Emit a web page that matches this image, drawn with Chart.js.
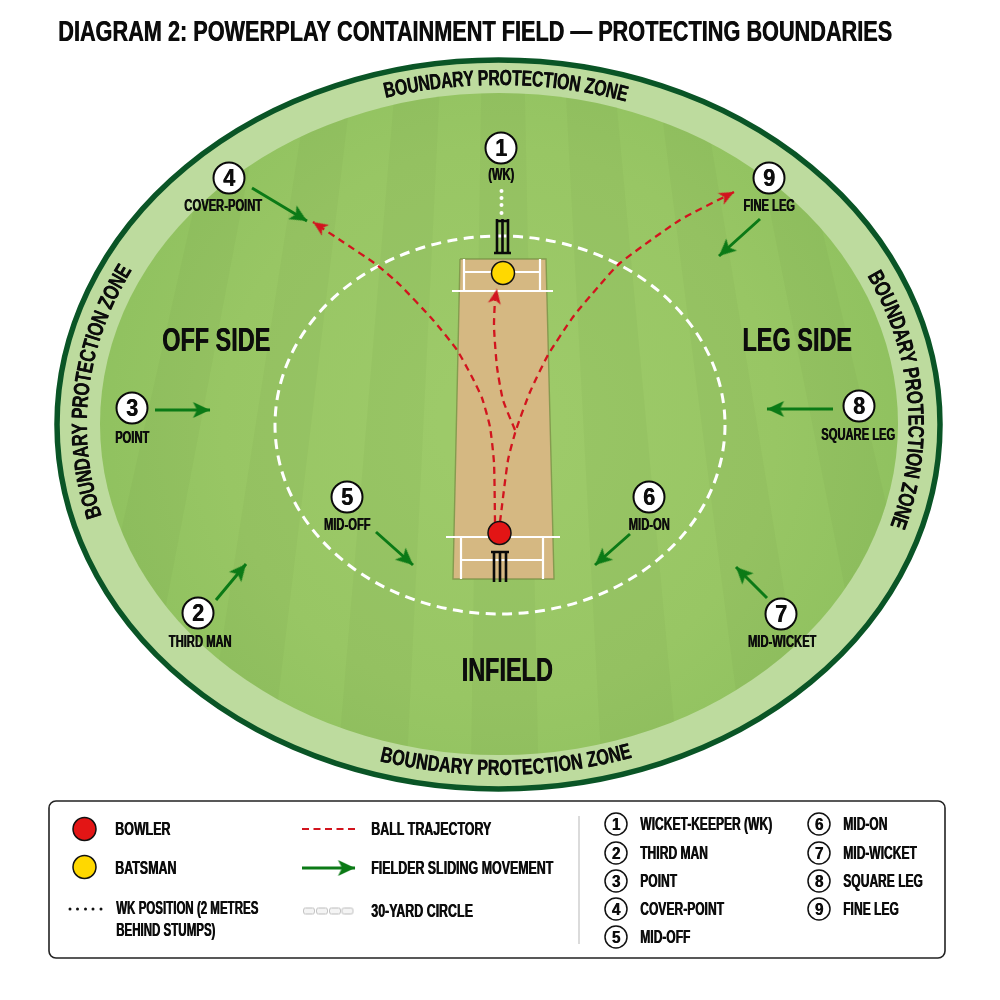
<!DOCTYPE html>
<html>
<head>
<meta charset="utf-8">
<title>Powerplay containment field</title>
<script src="https://cdn.jsdelivr.net/npm/chart.js@4/dist/chart.umd.min.js"></script>
<style>
  html, body { margin: 0; padding: 0; background: #fff; }
  #field { display: block; }
</style>
</head>
<body>
<canvas id="field" width="1000" height="1000"></canvas>
<script>
"use strict";

const titleText = 'DIAGRAM 2: POWERPLAY CONTAINMENT FIELD — PROTECTING BOUNDARIES';

// Fielders
const fielderNumbers = ['1', '2', '3', '4', '5', '6', '7', '8', '9'];
const fielderNames = ['(WK)', 'THIRD MAN', 'POINT', 'COVER-POINT', 'MID-OFF', 'MID-ON', 'MID-WICKET', 'SQUARE LEG', 'FINE LEG'];
const fielderX = [501, 198, 132, 229, 347, 649, 781, 859, 769];
const fielderY = [148, 613, 408, 178, 497, 497, 614, 406, 178];
const fielderNameX = [501, 200, 132, 223, 347, 649, 782, 858, 769];
const fielderNameY = [174, 641, 437, 205, 524, 524, 641, 434, 205];

// Sliding arrows, same order as the fielders (the keeper does not move)
const arrowStartX = [216, 155, 252, 376, 630, 767, 833, 760];
const arrowStartY = [600, 410, 188, 532, 534, 598, 409, 219];
const arrowEndX = [246, 210, 307, 413, 595, 736, 767, 719];
const arrowEndY = [564, 410, 221, 565, 565, 567, 409, 256];

// Ball paths
const pathOffX = [495, 494, 490, 482, 472, 457, 433, 400, 377, 343, 313];
const pathOffY = [522, 463, 427, 398, 377, 350, 320, 285, 265, 242, 222];
const pathLegX = [500, 508, 516, 530, 548, 573, 598, 620, 680, 734];
const pathLegY = [522, 460, 430, 392, 355, 317, 287, 263, 220, 192];
const pathBatX = [515, 503, 497, 494, 495, 497];
const pathBatY = [430, 400, 367, 327, 300, 289];

// Pitch outline and markings, null breaks the line
const pitchX = [460, 546, 554, 453, 460];
const pitchY = [259, 259, 579, 579, 259];
const creaseX = [452, 553, null, 464, 540, null, 464, 464, null, 540, 540, null, 446, 560, null, 461, 461, null, 543, 543, null, 461, 543];
const creaseY = [291, 291, null, 272, 272, null, 259, 291, null, 259, 291, null, 537, 537, null, 537, 579, null, 537, 579, null, 560, 560];
const stumpsX = [497, 497, null, 502.5, 502.5, null, 508, 508, null, 496, 509, null, 494, 511, null, 494, 494, null, 500, 500, null, 506, 506, null, 491, 509];
const stumpsY = [219, 253, null, 219, 253, null, 219, 253, null, 221, 221, null, 253, 253, null, 551, 582, null, 551, 582, null, 551, 582, null, 552, 552];
const keeperDotsX = [501.5, 501.5, 501.5, 501.5];
const keeperDotsY = [191, 198, 205, 213];

const bowlerX = [499.5, 84.5];
const bowlerY = [533, 829];
const batsmanX = [503, 84.5];
const batsmanY = [273, 867];

// Field ellipses: centre x, centre y, radius x, radius y
const boundaryEllipse = [498.5, 424.5, 441.5, 364.5];
const grassEllipse = [499, 424, 399, 331];
const circleEllipse = [500, 425, 225, 189];

// Mowing stripe edges, x where they cross y = 700
const stripeEdges = [-50, 18, 83, 148, 213, 278, 343, 410, 472, 537, 598, 672, 737, 802, 867, 932, 997, 1062];

// Ring labels: text centre angle in degrees, length along the curve, ellipse radii, direction
const ringAngles = [-89, 186, -4.5, 89];
const ringLengths = [246, 262, 266, 252];
const ringRadiiX = [420, 419, 417, 420];
const ringRadiiY = [347, 347, 347, 343];
const ringDirs = [1, 1, 1, -1];

const areaNames = ['OFF SIDE', 'LEG SIDE', 'INFIELD'];
const areaX = [216, 797, 507];
const areaY = [340, 340, 670];

// Legend
const legendBox = [49, 801, 896, 157];
const legendDividerX = [579, 579];
const legendDividerY = [816, 944];
const legendTrajectoryX = [302, 355];
const legendTrajectoryY = [829, 829];
const legendArrowX = [302, 355];
const legendArrowY = [868, 868];
const legendWkX = [70, 77.5, 85.5, 93, 101];
const legendWkY = [909, 909, 909, 909, 909];
const legendChainX = [309, 322, 335, 347.5];
const legendChainY = [911, 911, 911, 911];
const legendTexts = ['BOWLER', 'BATSMAN', 'WK POSITION (2 METRES', 'BEHIND STUMPS)', 'BALL TRAJECTORY', 'FIELDER SLIDING MOVEMENT', '30-YARD CIRCLE'];
const legendTextX = [115, 115, 116, 116, 371, 371, 371];
const legendTextY = [829, 868, 908, 930, 829, 868, 911];
const keyNames = ['WICKET-KEEPER (WK)', 'THIRD MAN', 'POINT', 'COVER-POINT', 'MID-OFF', 'MID-ON', 'MID-WICKET', 'SQUARE LEG', 'FINE LEG'];
const keyX = [616, 616, 616, 616, 616, 819, 819, 819, 819];
const keyY = [824, 853, 881, 909, 937, 824, 853, 881, 909];

const FONT = '"Liberation Sans Narrow", "Liberation Sans", sans-serif';
const INK = '#0c0c0c';
const GREEN = '#0b7a16';
const RED = '#d2141e';

function points(xs, ys) {
    return xs.map((x, i) => ({ x: x, y: ys[i] }));
}

// Arrow head sprite, tip points up
function headSprite(color, len, wide) {
    const c = document.createElement('canvas');
    c.width = c.height = 24;
    const g = c.getContext('2d');
    g.fillStyle = color;
    g.beginPath();
    g.moveTo(12, 12 - len / 2);
    g.lineTo(12 + wide / 2, 12 + len / 2);
    g.lineTo(12, 12 + len / 2 - 4);
    g.lineTo(12 - wide / 2, 12 + len / 2);
    g.closePath();
    g.fill();
    return c;
}

function chainSprite() {
    const c = document.createElement('canvas');
    c.width = 14;
    c.height = 9;
    const g = c.getContext('2d');
    g.strokeStyle = '#bdbdbd';
    g.fillStyle = '#f4f4f4';
    g.beginPath();
    g.roundRect(1.5, 1.5, 11, 6, 2);
    g.fill();
    g.stroke();
    return c;
}

// Rotation for a head whose tip sits on (x2, y2), plus the sprite centre behind the tip
function headFor(x1, y1, x2, y2, len) {
    const d = Math.hypot(x2 - x1, y2 - y1);
    return {
        x: x2 - (x2 - x1) / d * len / 2,
        y: y2 - (y2 - y1) / d * len / 2,
        rot: Math.atan2(x2 - x1, y1 - y2) * 180 / Math.PI
    };
}

function lineSet(xs, ys, color, width, dash, tension) {
    return {
        data: points(xs, ys),
        showLine: true,
        borderColor: color,
        borderWidth: width,
        borderDash: dash || [],
        tension: tension || 0,
        pointRadius: 0,
        spanGaps: false,
        fill: false
    };
}

function dotSet(xs, ys, radius, fill, edge, edgeWidth) {
    return {
        data: points(xs, ys),
        showLine: false,
        pointRadius: radius,
        pointBackgroundColor: fill,
        pointBorderColor: edge,
        pointBorderWidth: edgeWidth
    };
}

function headSet(list, sprite) {
    return {
        data: list.map(h => ({ x: h.x, y: h.y })),
        showLine: false,
        pointRadius: 6,
        pointStyle: sprite,
        pointRotation: list.map(h => h.rot)
    };
}

const greenHead = headSprite(GREEN, 17, 16);
const redHead = headSprite(RED, 15, 13);

const greenHeads = arrowStartX.map((x, i) => headFor(x, arrowStartY[i], arrowEndX[i], arrowEndY[i], 17));
greenHeads.push(headFor(legendArrowX[0], legendArrowY[0], legendArrowX[1], legendArrowY[1], 17));

const redHeads = [[pathOffX, pathOffY], [pathLegX, pathLegY], [pathBatX, pathBatY]].map(p => {
    const n = p[0].length - 1;
    return headFor(p[0][n - 1], p[1][n - 1], p[0][n], p[1][n], 15);
});

const arrowLinesX = [];
const arrowLinesY = [];
arrowStartX.forEach((x, i) => {
    arrowLinesX.push(x, arrowEndX[i], null);
    arrowLinesY.push(arrowStartY[i], arrowEndY[i], null);
});

const pitchSet = lineSet(pitchX, pitchY, 'rgba(120,145,70,0.8)', 1.4);
pitchSet.fill = 'shape';
pitchSet.backgroundColor = '#d5b882';

// listed bottom to top, Chart.js paints the first dataset last so this gets reversed below
const datasets = [
    pitchSet,
    lineSet(creaseX, creaseY, '#ffffff', 2.2),
    lineSet(stumpsX, stumpsY, '#0a0a0a', 2.6),
    dotSet(keeperDotsX, keeperDotsY, 2, '#ffffff', '#ffffff', 0),
    lineSet(pathOffX, pathOffY, RED, 2.3, [7, 5], 0.18),
    lineSet(pathLegX, pathLegY, RED, 2.3, [7, 5], 0.18),
    lineSet(pathBatX, pathBatY, RED, 2.3, [7, 5], 0.18),
    headSet(redHeads, redHead),
    lineSet(arrowLinesX, arrowLinesY, GREEN, 3),
    lineSet(legendArrowX, legendArrowY, GREEN, 3),
    headSet(greenHeads, greenHead),
    dotSet(fielderX, fielderY, 15.5, '#ffffff', '#0a0a0a', 2),
    dotSet(bowlerX, bowlerY, 11.5, '#e31515', '#111111', 1.5),
    dotSet(batsmanX, batsmanY, 11.5, '#ffd800', '#111111', 1.5),
    lineSet(legendDividerX, legendDividerY, '#c4c4c4', 1.2),
    lineSet(legendTrajectoryX, legendTrajectoryY, RED, 2.2, [7, 4.5]),
    dotSet(legendWkX, legendWkY, 1.5, '#111111', '#111111', 0),
    {
        data: points(legendChainX, legendChainY),
        showLine: false,
        pointRadius: 5,
        pointStyle: chainSprite()
    },
    dotSet(keyX, keyY, 11, '#ffffff', '#111111', 1.5)
].reverse();

// Ground and legend panel go under the datasets
const groundPlugin = {
    id: 'ground',
    beforeDatasetsDraw(chart) {
        const ctx = chart.ctx;
        const sx = chart.scales.x;
        const sy = chart.scales.y;

        function ellipsePath(e) {
            ctx.beginPath();
            ctx.ellipse(sx.getPixelForValue(e[0]), sy.getPixelForValue(e[1]), e[2], e[3], 0, 0, Math.PI * 2);
        }

        ctx.save();
        ellipsePath(boundaryEllipse);
        ctx.fillStyle = '#bddb9e';
        ctx.fill();

        // grass
        ctx.save();
        ellipsePath(grassEllipse);
        ctx.clip();
        const glow = ctx.createRadialGradient(499, 424, 60, 499, 424, 420);
        glow.addColorStop(0, '#9dca69');
        glow.addColorStop(0.6, '#98c664');
        glow.addColorStop(1, '#8fc15f');
        ctx.fillStyle = glow;
        ctx.fillRect(0, 0, 1000, 1000);
        ctx.fillStyle = 'rgba(96,146,58,0.08)';
        for (let i = 0; i + 1 < stripeEdges.length; i += 2) {
            const top = 60;
            const bottom = 790;
            const at = (edge, y) => 500 + (edge - 500) * (y + 1150) / 1850;
            ctx.beginPath();
            ctx.moveTo(sx.getPixelForValue(at(stripeEdges[i], top)), sy.getPixelForValue(top));
            ctx.lineTo(sx.getPixelForValue(at(stripeEdges[i + 1], top)), sy.getPixelForValue(top));
            ctx.lineTo(sx.getPixelForValue(at(stripeEdges[i + 1], bottom)), sy.getPixelForValue(bottom));
            ctx.lineTo(sx.getPixelForValue(at(stripeEdges[i], bottom)), sy.getPixelForValue(bottom));
            ctx.closePath();
            ctx.fill();
        }
        ctx.restore();

        ellipsePath(boundaryEllipse);
        ctx.strokeStyle = '#0a5526';
        ctx.lineWidth = 5.5;
        ctx.stroke();

        ellipsePath(circleEllipse);
        ctx.strokeStyle = '#ffffff';
        ctx.lineWidth = 3;
        ctx.setLineDash([10, 6.5]);
        ctx.stroke();
        ctx.setLineDash([]);

        // legend panel
        ctx.beginPath();
        ctx.roundRect(legendBox[0], legendBox[1], legendBox[2], legendBox[3], 7);
        ctx.fillStyle = '#ffffff';
        ctx.fill();
        ctx.strokeStyle = '#222222';
        ctx.lineWidth = 1.6;
        ctx.stroke();
        ctx.restore();
    }
};

// All text goes on top
const textPlugin = {
    id: 'texts',
    afterDatasetsDraw(chart) {
        const ctx = chart.ctx;
        const sx = chart.scales.x;
        const sy = chart.scales.y;

        function put(text, x, y, size, squeeze, align) {
            ctx.font = 'bold ' + size + 'px ' + FONT;
            ctx.textAlign = align || 'center';
            ctx.textBaseline = 'middle';
            ctx.fillStyle = INK;
            // caps sit a little above the em middle
            ctx.fillText(text, sx.getPixelForValue(x), sy.getPixelForValue(y) + 1.5, ctx.measureText(text).width * squeeze);
        }

        function curved(text, i) {
            const cx = boundaryEllipse[0];
            const cy = 425;
            const rx = ringRadiiX[i];
            const ry = ringRadiiY[i];
            const dir = ringDirs[i];
            const step = (t, ds) => {
                const n = Math.max(1, Math.ceil(Math.abs(ds)));
                for (let k = 0; k < n; k++) {
                    t += dir * (ds / n) / Math.hypot(rx * Math.sin(t), ry * Math.cos(t));
                }
                return t;
            };
            ctx.font = 'bold 22px ' + FONT;
            ctx.textAlign = 'center';
            ctx.textBaseline = 'middle';
            ctx.fillStyle = INK;
            const total = ctx.measureText(text).width;
            const squeeze = ringLengths[i] / total;
            let t = step(ringAngles[i] * Math.PI / 180, -ringLengths[i] / 2);
            for (let c = 0; c < text.length; c++) {
                const w = ctx.measureText(text.slice(0, c + 1)).width - ctx.measureText(text.slice(0, c)).width;
                const mid = step(t, w * squeeze / 2);
                const rot = Math.atan2(dir * ry * Math.cos(mid), -dir * rx * Math.sin(mid));
                ctx.save();
                ctx.translate(sx.getPixelForValue(cx + rx * Math.cos(mid)), sy.getPixelForValue(cy + ry * Math.sin(mid)));
                ctx.rotate(rot);
                ctx.scale(squeeze, 1);
                ctx.fillText(text[c], 0, 1);
                ctx.restore();
                t = step(t, w * squeeze);
            }
        }

        ctx.save();
        // squeezing thins the strokes, a hard shadow puts the weight back
        ctx.shadowColor = INK;
        ctx.shadowBlur = 0;
        ctx.shadowOffsetX = 0.5;
        ctx.shadowOffsetY = 0;
        put(titleText, 58, 31, 29, 0.748, 'left');
        ringAngles.forEach((a, i) => curved('BOUNDARY PROTECTION ZONE', i));
        areaNames.forEach((n, i) => put(n, areaX[i], areaY[i], 34, 0.69));
        fielderNames.forEach((n, i) => {
            put(fielderNumbers[i], fielderX[i], fielderY[i], 24, 0.9);
            put(n, fielderNameX[i], fielderNameY[i], 16, 0.7);
        });
        legendTexts.forEach((n, i) => put(n, legendTextX[i], legendTextY[i], 18, i === 2 || i === 3 ? 0.64 : 0.69, 'left'));
        keyNames.forEach((n, i) => {
            put(fielderNumbers[i], keyX[i], keyY[i], 17, 0.9);
            put(n, keyX[i] + 24, keyY[i], 18, 0.67, 'left');
        });
        ctx.restore();
    }
};

new Chart(document.getElementById('field'), {
    type: 'scatter',
    data: { datasets: datasets },
    options: {
        responsive: false,
        animation: false,
        events: [],
        layout: { padding: 0, autoPadding: false },
        plugins: {
            legend: { display: false },
            title: { display: false },
            tooltip: { enabled: false }
        },
        scales: {
            x: { type: 'linear', min: 0, max: 1000, display: false },
            y: { type: 'linear', min: 0, max: 1000, reverse: true, display: false }
        }
    },
    plugins: [groundPlugin, textPlugin]
});
</script>
</body>
</html>
